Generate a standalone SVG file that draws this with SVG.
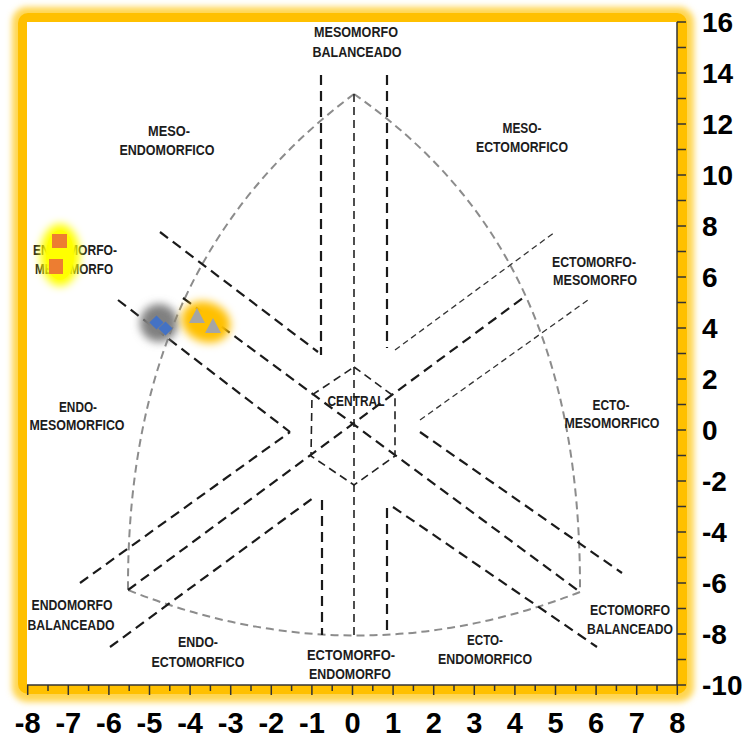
<svg xmlns="http://www.w3.org/2000/svg" width="750" height="738" viewBox="0 0 750 738">
<defs>
<style>
.lbl{font-family:"Liberation Sans Narrow","Liberation Sans",Arial,sans-serif;font-weight:bold;font-size:15.5px;fill:#1c1c1c;text-anchor:middle}
.ax{font-family:"Liberation Sans",Arial,sans-serif;font-weight:bold;fill:#000}
.axl{font-size:28px;text-anchor:start}
.axb{font-size:29px;text-anchor:middle}
.thick{fill:none;stroke:#1a1a1a;stroke-width:2.2;stroke-dasharray:10 6}
.thin{fill:none;stroke:#333;stroke-width:1.3;stroke-dasharray:6 4}
.mid{fill:none;stroke:#222;stroke-width:1.6;stroke-dasharray:8 5}
.outline{fill:none;stroke:#8c8c8c;stroke-width:2;stroke-dasharray:8 5}
.tick{fill:none;stroke:#333;stroke-width:1.5}
</style>
<filter id="soft" x="-10%" y="-10%" width="120%" height="120%"><feGaussianBlur stdDeviation="3"/></filter>
<filter id="glow" x="-60%" y="-60%" width="220%" height="220%"><feGaussianBlur stdDeviation="4.5"/></filter>
</defs>

<g id="frame">
<rect x="12" y="7" width="682" height="695" rx="15" fill="#FFD54F" filter="url(#soft)"/>
<rect x="18" y="13" width="669" height="681" rx="10" fill="#FFC000"/>
<rect x="27" y="22" width="650" height="663" fill="#FFFFFF"/>
</g>

<g id="outline">
<path class="outline" d="M354,94 C214,199 127,350 128,590"/>
<path class="outline" d="M354,94 C504,199 581,350 580,592"/>
<path class="outline" d="M580,592 Q354,680 128,590"/>
</g>

<g id="connectors">
<line class="thick" x1="321" y1="75" x2="321" y2="355"/>
<line class="thick" x1="387" y1="75" x2="387" y2="348"/>
<line class="thick" x1="322" y1="500" x2="322" y2="635"/>
<line class="thick" x1="387" y1="508" x2="387" y2="635"/>
<line class="thick" x1="160" y1="232" x2="318" y2="352"/>
<line class="thick" x1="118" y1="300" x2="290" y2="432"/>
<line class="thick" x1="80" y1="583" x2="290" y2="432"/>
<line class="thick" x1="110" y1="647" x2="313" y2="498"/>
<line class="thick" x1="183" y1="298" x2="580" y2="592"/>
<line class="thick" x1="128" y1="590" x2="523" y2="298"/>
<line class="thick" x1="420" y1="432" x2="622" y2="573"/>
<line class="thick" x1="393" y1="507" x2="597" y2="647"/>
<line class="thin" x1="395" y1="350" x2="555" y2="232"/>
<line class="thin" x1="420" y1="420" x2="588" y2="300"/>
<line class="mid" x1="354" y1="94" x2="354" y2="637"/>
</g>

<g id="central">
<polygon class="mid" points="354,367 395,397 395,456 354,485 311,456 312,395"/>
<text class="lbl" x="356" y="406" textLength="57" lengthAdjust="spacingAndGlyphs">CENTRAL</text>
</g>

<g id="labels">
<g id="mesomorfo-balanceado">
<text class="lbl" x="356" y="37" textLength="84" lengthAdjust="spacingAndGlyphs">MESOMORFO</text>
<text class="lbl" x="357" y="57" textLength="89" lengthAdjust="spacingAndGlyphs">BALANCEADO</text>
</g>
<g id="meso-endomorfico">
<text class="lbl" x="169" y="136" textLength="42" lengthAdjust="spacingAndGlyphs">MESO-</text>
<text class="lbl" x="167" y="155" textLength="95" lengthAdjust="spacingAndGlyphs">ENDOMORFICO</text>
</g>
<g id="meso-ectomorfico">
<text class="lbl" x="522" y="133" textLength="39" lengthAdjust="spacingAndGlyphs">MESO-</text>
<text class="lbl" x="522" y="152" textLength="92" lengthAdjust="spacingAndGlyphs">ECTOMORFICO</text>
</g>
<g id="endomorfo-mesomorfo">
<text class="lbl" x="75" y="255" textLength="84" lengthAdjust="spacingAndGlyphs">ENDOMORFO-</text>
<text class="lbl" x="74" y="274" textLength="78" lengthAdjust="spacingAndGlyphs">MESOMORFO</text>
</g>
<g id="endo-mesomorfico">
<text class="lbl" x="78" y="412" textLength="38" lengthAdjust="spacingAndGlyphs">ENDO-</text>
<text class="lbl" x="77" y="430" textLength="95" lengthAdjust="spacingAndGlyphs">MESOMORFICO</text>
</g>
<g id="endomorfo-balanceado">
<text class="lbl" x="72" y="610" textLength="81" lengthAdjust="spacingAndGlyphs">ENDOMORFO</text>
<text class="lbl" x="71" y="630" textLength="87" lengthAdjust="spacingAndGlyphs">BALANCEADO</text>
</g>
<g id="endo-ectomorfico">
<text class="lbl" x="198" y="647" textLength="40" lengthAdjust="spacingAndGlyphs">ENDO-</text>
<text class="lbl" x="198" y="667" textLength="93" lengthAdjust="spacingAndGlyphs">ECTOMORFICO</text>
</g>
<g id="ectomorfo-endomorfo">
<text class="lbl" x="351" y="660" textLength="88" lengthAdjust="spacingAndGlyphs">ECTOMORFO-</text>
<text class="lbl" x="350" y="679" textLength="82" lengthAdjust="spacingAndGlyphs">ENDOMORFO</text>
</g>
<g id="ecto-endomorfico">
<text class="lbl" x="485" y="645" textLength="36" lengthAdjust="spacingAndGlyphs">ECTO-</text>
<text class="lbl" x="485" y="664" textLength="94" lengthAdjust="spacingAndGlyphs">ENDOMORFICO</text>
</g>
<g id="ectomorfo-balanceado">
<text class="lbl" x="630" y="615" textLength="80" lengthAdjust="spacingAndGlyphs">ECTOMORFO</text>
<text class="lbl" x="630" y="634" textLength="86" lengthAdjust="spacingAndGlyphs">BALANCEADO</text>
</g>
<g id="ectomorfo-mesomorfo">
<text class="lbl" x="594" y="267" textLength="84" lengthAdjust="spacingAndGlyphs">ECTOMORFO-</text>
<text class="lbl" x="595" y="285" textLength="84" lengthAdjust="spacingAndGlyphs">MESOMORFO</text>
</g>
<g id="ecto-mesomorfico">
<text class="lbl" x="611" y="410" textLength="37" lengthAdjust="spacingAndGlyphs">ECTO-</text>
<text class="lbl" x="612" y="428" textLength="95" lengthAdjust="spacingAndGlyphs">MESOMORFICO</text>
</g>
</g>

<g id="markers">
<g id="squares">
<ellipse cx="60" cy="255" rx="20" ry="31" fill="#FFFF00" filter="url(#glow)"/>
<ellipse cx="60" cy="255" rx="14" ry="25" fill="#FFFF00" opacity="0.8"/>
<rect x="52" y="234" width="15" height="14" fill="#ED7D31"/>
<rect x="49" y="259" width="14" height="15" fill="#ED7D31"/>
</g>
<g id="diamonds">
<ellipse cx="159" cy="323" rx="19" ry="19" fill="#808080" filter="url(#glow)"/>
<rect x="-5" y="-5" width="10" height="10" fill="#4472C4" transform="translate(156.5,322.5) rotate(45)"/>
<rect x="-5" y="-5" width="10" height="10" fill="#4472C4" transform="translate(165.5,328.5) rotate(45)"/>
</g>
<g id="triangles">
<ellipse cx="206" cy="322" rx="25" ry="20" fill="#FFC000" filter="url(#glow)" transform="rotate(20 206 322)"/>
<polygon points="197,308 205,323 189,323" fill="#A5A5A5"/>
<polygon points="213,318 221,333 205,333" fill="#A5A5A5"/>
</g>
</g>

<g id="axes">
<line class="tick" x1="677" y1="22" x2="677" y2="685"/>
<line class="tick" x1="27" y1="685" x2="677" y2="685"/>
<path class="tick" d="M677,22h9M677,47.5h9M677,73h9M677,98.5h9M677,124h9M677,149.5h9M677,175h9M677,200.5h9M677,226h9M677,251.5h9M677,277h9M677,302.5h9M677,328h9M677,353.5h9M677,379h9M677,404.5h9M677,430h9M677,455.5h9M677,481h9M677,506.5h9M677,532h9M677,557.5h9M677,583h9M677,608.5h9M677,634h9M677,659.5h9M677,685h9"/>
<path class="tick" d="M27.7,685v10M68.3,685v10M108.9,685v10M149.5,685v10M190.1,685v10M230.7,685v10M271.3,685v10M311.9,685v10M352.5,685v10M393.1,685v10M433.7,685v10M474.3,685v10M514.9,685v10M555.5,685v10M596.1,685v10M636.7,685v10M677.3,685v10M48,685v6M88.6,685v6M129.2,685v6M169.8,685v6M210.4,685v6M251,685v6M291.6,685v6M332.2,685v6M372.8,685v6M413.4,685v6M454,685v6M494.6,685v6M535.2,685v6M575.8,685v6M616.4,685v6M657,685v6"/>
<g class="ax axl">
<text x="702" y="32">16</text>
<text x="702" y="83">14</text>
<text x="702" y="134">12</text>
<text x="702" y="185">10</text>
<text x="702" y="236">8</text>
<text x="702" y="287">6</text>
<text x="702" y="338">4</text>
<text x="702" y="389">2</text>
<text x="702" y="440">0</text>
<text x="702" y="491">-2</text>
<text x="702" y="542">-4</text>
<text x="702" y="593">-6</text>
<text x="702" y="644">-8</text>
<text x="702" y="695">-10</text>
</g>
<g class="ax axb">
<text x="27.7" y="733">-8</text>
<text x="68.3" y="733">-7</text>
<text x="108.9" y="733">-6</text>
<text x="149.5" y="733">-5</text>
<text x="190.1" y="733">-4</text>
<text x="230.7" y="733">-3</text>
<text x="271.3" y="733">-2</text>
<text x="311.9" y="733">-1</text>
<text x="352.5" y="733">0</text>
<text x="393.1" y="733">1</text>
<text x="433.7" y="733">2</text>
<text x="474.3" y="733">3</text>
<text x="514.9" y="733">4</text>
<text x="555.5" y="733">5</text>
<text x="596.1" y="733">6</text>
<text x="636.7" y="733">7</text>
<text x="677.3" y="733">8</text>
</g>
</g>
</svg>
